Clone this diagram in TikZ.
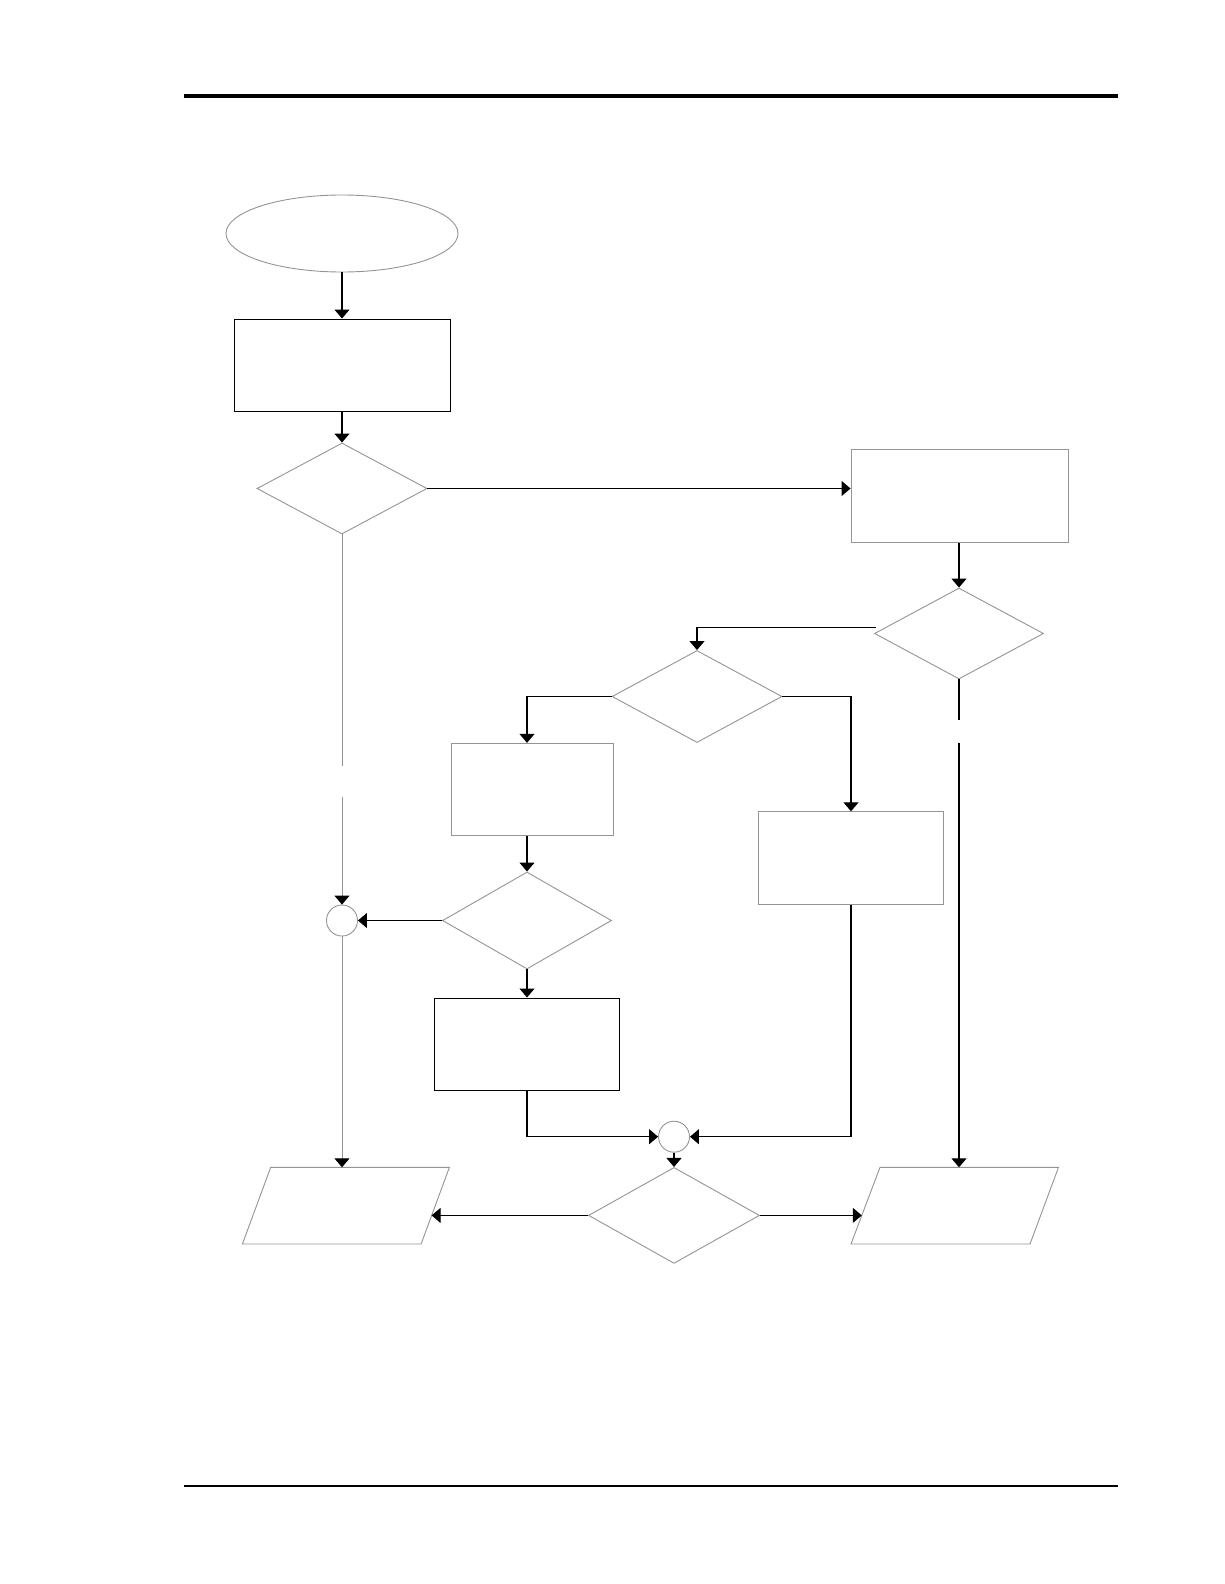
\documentclass[tikz,border=0pt]{standalone}
\usetikzlibrary{shapes.geometric,arrows.meta}
\begin{document}
\begin{tikzpicture}[x=1pt,y=-1pt,
  blk/.style={draw=black, line width=1pt},
  gry/.style={draw=black!42, line width=0.9pt},
  conn/.style={draw=black, line width=1.1pt},
  gconn/.style={draw=black!42, line width=1pt},
  tip/.style={-{Triangle[width=15pt,length=9pt,color=black]}},
  dia/.style={diamond, gry, inner sep=0pt, minimum width=170pt, minimum height=92pt},
  boxnode/.style={rectangle, inner sep=0pt},
  joint/.style={circle, gry, inner sep=0pt, minimum size=31pt}
]
\useasboundingbox (0,0) rectangle (1224,1584);
\fill[white] (0,0) rectangle (1224,1584);

% page rules
\draw[line width=3.2pt] (184,96) -- (1118,96);
\draw[line width=1.3pt] (184,1486) -- (1118,1486);

% nodes
\node[ellipse, gry, inner sep=0pt, minimum width=232pt, minimum height=77pt] (start) at (342,233.5) {};
\node[boxnode, blk, minimum width=216pt, minimum height=92pt] (r1) at (342,365) {};
\node[dia, minimum height=91pt] (d1) at (342,488.5) {};
\node[boxnode, gry, minimum width=217pt, minimum height=93pt] (r2) at (959.5,495.8) {};
\node[dia, minimum width=169pt, minimum height=91pt] (d2) at (959,633.5) {};
\node[dia] (d3) at (697,696.5) {};
\node[boxnode, gry, minimum width=162pt, minimum height=92pt] (r3) at (532.5,789.3) {};
\node[boxnode, gry, minimum width=185.5pt, minimum height=92.5pt] (r4) at (851,858) {};
\node[dia, minimum width=169pt, minimum height=97pt] (d4) at (527,920.5) {};
\node[joint] (c1) at (342,920.5) {};
\node[boxnode, blk, minimum width=185pt, minimum height=92pt] (r5) at (527,1044) {};
\node[joint] (c2) at (674,1136.7) {};
\node[dia, minimum width=171pt, minimum height=96pt] (d5) at (674,1215.4) {};

% parallelograms
\draw[gry] (270.7,1167.3) coordinate (p1a) -- (449.4,1167.3) -- (421.1,1244) -- (242.4,1244) -- cycle;
\coordinate (p1r) at (431.6,1215.4);
\draw[gry] (880,1167.3) coordinate (p2a) -- (1058.5,1167.3) -- (1030,1244) -- (851,1244) -- cycle;
\coordinate (p2l) at (861.8,1215.4);

% gaps
\coordinate (gA) at (342,765.7);
\coordinate (gB) at (342,796.7);
\coordinate (gC) at (959,720);
\coordinate (gD) at (959,742.7);

% connectors
\draw[conn,tip] (start.south) -- (r1.north);
\draw[conn,tip] (r1.south) -- (d1.north);
\draw[conn,tip] (d1.east) -- (d1.east -| r2.west);
\draw[conn,tip] (r2.south -| d2.north) -- (d2.north);
\draw[conn,tip] ([xshift=2pt,yshift=6pt]d2.west) -| (d3.north);
\draw[conn,tip] (d3.west) -| (r3.north -| d4.north);
\draw[conn,tip] (d3.east) -| (r4.north);
\draw[conn,tip] (r3.south -| d4.north) -- (d4.north);
\draw[conn,tip] (d4.west) -- (c1.east);
\draw[gconn] (d1.south) -- (gA);
\draw[gconn,tip] (gB) -- (c1.north);
\draw[gconn,tip] (c1.south) -- (c1.south |- p1a);
\draw[conn,tip] (d4.south) -- (r5.north);
\draw[conn,tip] (r5.south) |- (c2.west);
\draw[conn,tip] (r4.south) |- (c2.east);
\draw[conn,tip] (c2.south) -- (d5.north);
\draw[conn,tip] (d5.west) -- (p1r);
\draw[conn,tip] (d5.east) -- (p2l);
\draw[conn] (d2.south) -- (gC);
\draw[conn,tip] (gD) -- (gD |- p2a);
\end{tikzpicture}
\end{document}
